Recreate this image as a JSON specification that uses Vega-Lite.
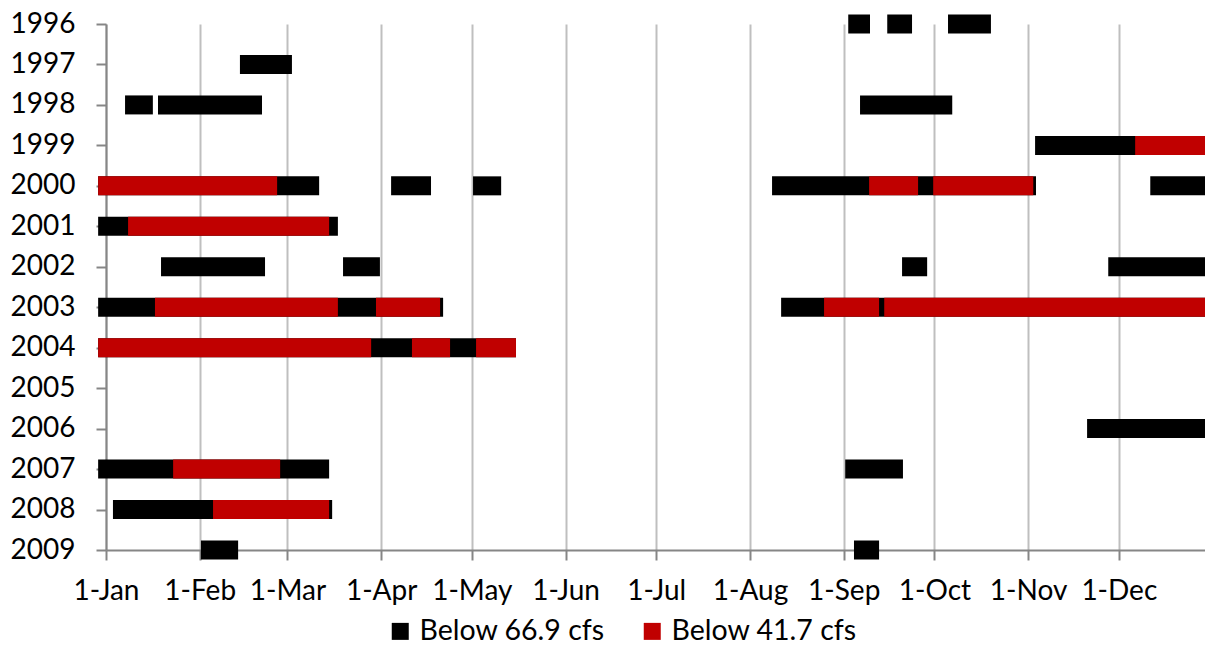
{
  "$schema": "https://vega.github.io/schema/vega-lite/v6.json",
  "width": 1099,
  "height": 526,
  "autosize": {"type": "none"},
  "padding": {"left": 106, "top": 24, "right": 0, "bottom": 96},
  "background": "white",
  "config": {"view": {"stroke": null}, "font": "Lato"},
  "data": {
    "values": [
      {"year": "1996", "start": 245.5, "end": 252.7, "level": "Below 66.9 cfs"},
      {"year": "1996", "start": 258.4, "end": 266.6, "level": "Below 66.9 cfs"},
      {"year": "1996", "start": 278.5, "end": 292.7, "level": "Below 66.9 cfs"},
      {"year": "1997", "start": 44.3, "end": 61.5, "level": "Below 66.9 cfs"},
      {"year": "1998", "start": 6.3, "end": 15.5, "level": "Below 66.9 cfs"},
      {"year": "1998", "start": 17.2, "end": 51.6, "level": "Below 66.9 cfs"},
      {"year": "1998", "start": 249.4, "end": 279.9, "level": "Below 66.9 cfs"},
      {"year": "1999", "start": 307.3, "end": 366, "level": "Below 66.9 cfs"},
      {"year": "2000", "start": -2.6, "end": 70.5, "level": "Below 66.9 cfs"},
      {"year": "2000", "start": 94.3, "end": 107.5, "level": "Below 66.9 cfs"},
      {"year": "2000", "start": 121.4, "end": 130.7, "level": "Below 66.9 cfs"},
      {"year": "2000", "start": 220.3, "end": 307.6, "level": "Below 66.9 cfs"},
      {"year": "2000", "start": 345.4, "end": 366, "level": "Below 66.9 cfs"},
      {"year": "2001", "start": -2.6, "end": 76.7, "level": "Below 66.9 cfs"},
      {"year": "2002", "start": 18.2, "end": 52.6, "level": "Below 66.9 cfs"},
      {"year": "2002", "start": 78.4, "end": 90.6, "level": "Below 66.9 cfs"},
      {"year": "2002", "start": 263.3, "end": 271.6, "level": "Below 66.9 cfs"},
      {"year": "2002", "start": 331.5, "end": 366, "level": "Below 66.9 cfs"},
      {"year": "2003", "start": -2.6, "end": 111.5, "level": "Below 66.9 cfs"},
      {"year": "2003", "start": 223.3, "end": 366, "level": "Below 66.9 cfs"},
      {"year": "2004", "start": -2.6, "end": 135.6, "level": "Below 66.9 cfs"},
      {"year": "2006", "start": 324.5, "end": 366, "level": "Below 66.9 cfs"},
      {"year": "2007", "start": -2.6, "end": 73.8, "level": "Below 66.9 cfs"},
      {"year": "2007", "start": 244.5, "end": 263.6, "level": "Below 66.9 cfs"},
      {"year": "2008", "start": 2.3, "end": 74.8, "level": "Below 66.9 cfs"},
      {"year": "2009", "start": 31.4, "end": 43.7, "level": "Below 66.9 cfs"},
      {"year": "2009", "start": 247.4, "end": 255.7, "level": "Below 66.9 cfs"},
      {"year": "1999", "start": 340.4, "end": 366, "level": "Below 41.7 cfs"},
      {"year": "2000", "start": -2.6, "end": 56.6, "level": "Below 41.7 cfs"},
      {"year": "2000", "start": 252.4, "end": 268.6, "level": "Below 41.7 cfs"},
      {"year": "2000", "start": 273.6, "end": 306.7, "level": "Below 41.7 cfs"},
      {"year": "2001", "start": 7.3, "end": 73.8, "level": "Below 41.7 cfs"},
      {"year": "2003", "start": 16.2, "end": 76.7, "level": "Below 41.7 cfs"},
      {"year": "2003", "start": 89.3, "end": 110.5, "level": "Below 41.7 cfs"},
      {"year": "2003", "start": 237.5, "end": 255.7, "level": "Below 41.7 cfs"},
      {"year": "2003", "start": 257.4, "end": 366, "level": "Below 41.7 cfs"},
      {"year": "2004", "start": -2.6, "end": 87.7, "level": "Below 41.7 cfs"},
      {"year": "2004", "start": 101.2, "end": 113.8, "level": "Below 41.7 cfs"},
      {"year": "2004", "start": 122.4, "end": 135.6, "level": "Below 41.7 cfs"},
      {"year": "2007", "start": 22.2, "end": 57.6, "level": "Below 41.7 cfs"},
      {"year": "2008", "start": 35.4, "end": 73.8, "level": "Below 41.7 cfs"}
    ]
  },
  "mark": {"type": "bar", "height": 19},
  "encoding": {
    "y": {
      "field": "year",
      "type": "ordinal",
      "scale": {"type": "point", "padding": 0, "domain": ["1996","1997","1998","1999","2000","2001","2002","2003","2004","2005","2006","2007","2008","2009"]},
      "axis": {
        "title": null,
        "grid": false,
        "domainColor": "#868686",
        "domainWidth": 2,
        "tickColor": "#868686",
        "tickWidth": 2,
        "tickSize": 10,
        "labelFont": "Lato",
        "labelFontSize": 28,
        "labelColor": "#000000",
        "labelPadding": 21
      }
    },
    "x": {
      "field": "start",
      "type": "quantitative",
      "scale": {"domain": [0, 363.5], "nice": false, "zero": false},
      "axis": {
        "title": null,
        "values": [0,31,60,91,121,152,182,213,244,274,305,335],
        "labelExpr": "['1-Jan','1-Feb','1-Mar','1-Apr','1-May','1-Jun','1-Jul','1-Aug','1-Sep','1-Oct','1-Nov','1-Dec'][indexof([0,31,60,91,121,152,182,213,244,274,305,335], datum.value)]",
        "grid": true,
        "gridColor": "#bfbfbf",
        "gridWidth": 2,
        "domainColor": "#868686",
        "domainWidth": 2,
        "tickColor": "#868686",
        "tickWidth": 2,
        "tickSize": 10,
        "labelFont": "Lato",
        "labelFontSize": 28,
        "labelColor": "#000000",
        "labelPadding": 17,
        "labelFlush": false,
        "labelOverlap": false
      }
    },
    "x2": {"field": "end"},
    "color": {
      "field": "level",
      "type": "nominal",
      "scale": {"domain": ["Below 66.9 cfs", "Below 41.7 cfs"], "range": ["#000000", "#c00000"]},
      "legend": {
        "title": null,
        "orient": "none",
        "legendX": 280,
        "legendY": 593,
        "direction": "horizontal",
        "symbolType": "square",
        "symbolSize": 289,
        "symbolStrokeWidth": 0,
        "labelFont": "Lato",
        "labelFontSize": 28.5,
        "labelColor": "#000000",
        "labelOffset": 5,
        "columnPadding": 33,
        "padding": 0,
        "labelLimit": 400
      }
    }
  }
}
